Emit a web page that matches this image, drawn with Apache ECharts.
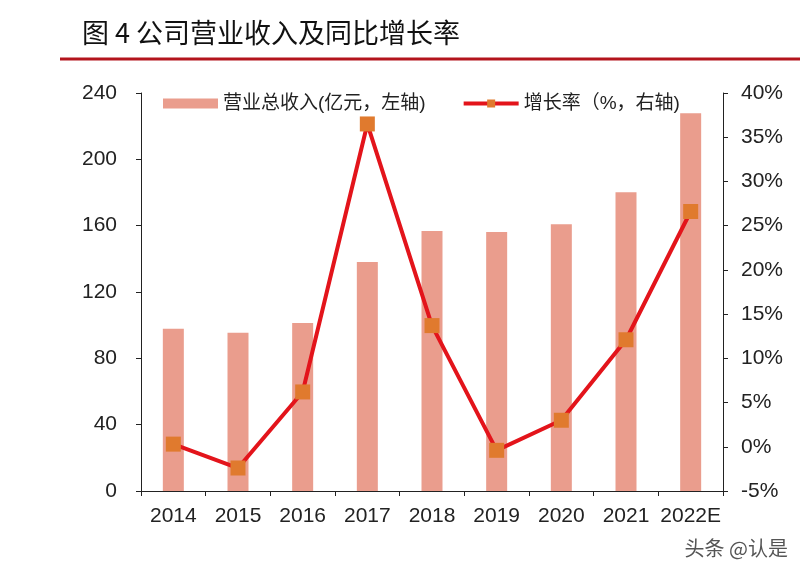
<!DOCTYPE html>
<html>
<head>
<meta charset="utf-8">
<script src="https://cdn.jsdelivr.net/npm/echarts@6/dist/echarts.min.js"></script>
<style>
html,body{margin:0;padding:0;background:#fff;}
#chart{width:800px;height:579px;}
</style>
</head>
<body>
<div id="chart"></div>
<script>
var categories = ['2014','2015','2016','2017','2018','2019','2020','2021','2022E'];
var revenue = [97.9, 95.5, 101.3, 138.1, 156.8, 156.2, 160.9, 180.2, 227.8];
var growth = [0.3, -2.4, 6.2, 36.5, 13.7, -0.4, 3.0, 12.1, 26.6];
var leftTicks = {min: 0, max: 240, interval: 40};
var rightTicks = {min: -5, max: 40, interval: 5};
var seriesNames = ['营业总收入(亿元，左轴)', '增长率（%，右轴)'];
var titleText = '图 4 公司营业收入及同比增长率';
var watermark = '头条 @认是';

var numFont = "'Liberation Sans',Arial,sans-serif";
var cjkFont = "'Liberation Sans','Noto Sans CJK SC',sans-serif";

var chart = echarts.init(document.getElementById('chart'), null, {renderer: 'canvas'});
chart.setOption({
  backgroundColor: '#ffffff',
  animation: false,
  grid: {left: 141, right: 77, top: 93, bottom: 88, containLabel: false},
  title: {
    text: titleText, left: 77, top: 14,
    textStyle: {fontFamily: "'Noto Sans CJK SC',sans-serif", fontSize: 27, fontWeight: 'normal', color: '#111'}
  },
  legend: {
    left: 158, top: 89, itemWidth: 55, itemHeight: 10, itemGap: 36,
    textStyle: {fontFamily: cjkFont, fontSize: 19, color: '#222'},
    data: [
      {name: seriesNames[0], icon: 'rect'},
      {name: seriesNames[1], lineStyle: {width: 4, color: '#E3141B'}}
    ]
  },
  graphic: [
    {type: 'line', shape: {x1: 60, y1: 59, x2: 800, y2: 59}, style: {stroke: '#B3141C', lineWidth: 3}},
    {type: 'text', right: 12, top: 538, style: {text: watermark, fontFamily: "'Noto Sans CJK SC',sans-serif", fontSize: 20, fill: '#555'}}
  ],
  xAxis: {
    type: 'category', data: categories,
    axisLine: {lineStyle: {color: '#222', width: 1}},
    axisTick: {show: true, length: 5, lineStyle: {color: '#222'}},
    axisLabel: {fontFamily: numFont, fontSize: 21, color: '#222', margin: 15, interval: 0}
  },
  yAxis: [
    {type: 'value', min: leftTicks.min, max: leftTicks.max, interval: leftTicks.interval,
     axisLine: {show: true, lineStyle: {color: '#222'}},
     axisTick: {show: true, length: 5, lineStyle: {color: '#222'}},
     splitLine: {show: false},
     axisLabel: {fontFamily: numFont, fontSize: 21, color: '#222', margin: 24}},
    {type: 'value', min: rightTicks.min, max: rightTicks.max, interval: rightTicks.interval,
     axisLine: {show: true, lineStyle: {color: '#222'}},
     axisTick: {show: true, length: 5, lineStyle: {color: '#222'}},
     splitLine: {show: false},
     axisLabel: {fontFamily: numFont, fontSize: 21, color: '#222', margin: 18, formatter: '{value}%'}}
  ],
  series: [
    {name: seriesNames[0], type: 'bar', data: revenue, barWidth: 21, yAxisIndex: 0,
     itemStyle: {color: '#EA9D8D'}},
    {name: seriesNames[1], type: 'line', data: growth, yAxisIndex: 1, z: 5,
     symbol: 'rect', symbolSize: 15,
     lineStyle: {color: '#E3141B', width: 4},
     itemStyle: {color: '#E07A2E'}}
  ]
});
</script>
</body>
</html>
